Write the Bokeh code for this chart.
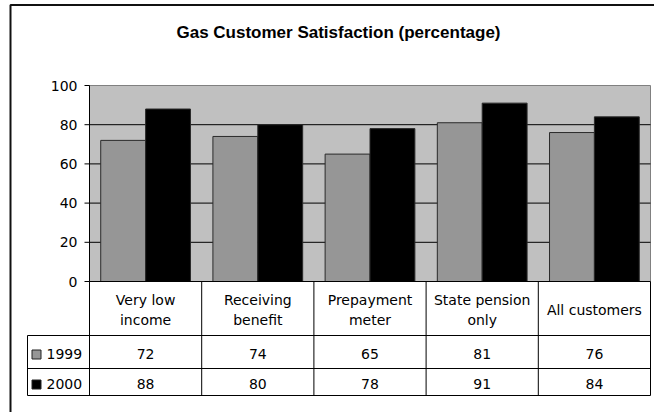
from bokeh.plotting import figure
from bokeh.models import Range1d
from bokeh.core.properties import value
from bokeh.embed import file_html
from bokeh.resources import INLINE

# ---- data ----
title = "Gas Customer Satisfaction (percentage)"
categories = [["Very low", "income"], ["Receiving", "benefit"], ["Prepayment", "meter"],
              ["State pension", "only"], ["All customers"]]
series_names = ["1999", "2000"]
sat_1999 = [72, 74, 65, 81, 76]
sat_2000 = [88, 80, 78, 91, 84]
y_ticks = [0, 20, 40, 60, 80, 100]

# ---- layout (pixels) ----
W, H = 654, 412
PLOT_L, PLOT_R, PLOT_T, PLOT_B = 89, 650, 85, 281
TABLE_L = 27
ROW1, ROW2, ROW3 = 335, 368, 395
TITLE_FONT = value("Liberation Sans")
FONT = value("DejaVu Sans")
FS = "14px"
GRAY, BLACK = "#969696", "#000000"

n = len(categories)
cat_w = (PLOT_R - PLOT_L) / n
px_per_unit = (PLOT_B - PLOT_T) / (y_ticks[-1] - y_ticks[0])

p = figure(width=W, height=H,
           x_range=Range1d(-PLOT_L / cat_w, (W - PLOT_L) / cat_w),
           y_range=Range1d(-(H - PLOT_B) / px_per_unit, PLOT_B / px_per_unit),
           output_backend="svg", toolbar_location=None, min_border=0,
           x_axis_location=None, y_axis_location=None,
           outline_line_color=None, background_fill_color="white")
p.extra_x_ranges = {"px": Range1d(0, W)}
p.extra_y_ranges = {"px": Range1d(H, 0)}
for g in p.grid:
    g.visible = False

# outer chart border
p.line(x=[10, 10, W + 20], y=[H + 20, 4.5, 4.5], x_range_name="px", y_range_name="px",
       line_color="#111111", line_width=2)

# title
p.text(x=[338], y=[32], text=[title], x_range_name="px", y_range_name="px",
       text_font=TITLE_FONT, text_font_size="17px", text_font_style="bold",
       text_align="center", text_baseline="middle", text_color="black")

# plot area
p.quad(left=[0], right=[n], bottom=[y_ticks[0]], top=[y_ticks[-1]],
       fill_color="#C0C0C0", line_color="#808080", line_width=1)
inner = y_ticks[1:-1]
p.segment(x0=[0] * len(inner), x1=[n] * len(inner), y0=inner, y1=inner,
          line_color="black", line_width=1)

# bars
xs = list(range(n))
p.vbar(x=[i + 0.3 for i in xs], width=0.4, bottom=0, top=sat_1999,
       fill_color=GRAY, line_color="#2a2a2a", line_width=1)
p.vbar(x=[i + 0.7 for i in xs], width=0.4, bottom=0, top=sat_2000,
       fill_color=BLACK, line_color="#2a2a2a", line_width=1)

# value axis
p.segment(x0=[0], x1=[0], y0=[y_ticks[0]], y1=[y_ticks[-1]], line_color="black", line_width=1)
p.segment(x0=[PLOT_L - 5] * len(y_ticks), x1=[PLOT_L] * len(y_ticks), y0=y_ticks, y1=y_ticks,
          x_range_name="px", line_color="black", line_width=1)
p.text(x=[0] * len(y_ticks), y=y_ticks, text=[str(t) for t in y_ticks], x_offset=-12,
       text_font=FONT, text_font_size=FS, text_align="right",
       text_baseline="middle", text_color="black")
p.segment(x0=[0], x1=[n], y0=[0], y1=[0], line_color="black", line_width=1)

# data table grid
p.segment(x0=list(range(n + 1)), x1=list(range(n + 1)), y0=[PLOT_B] * (n + 1), y1=[ROW3] * (n + 1),
          y_range_name="px", line_color="black", line_width=1)
p.segment(x0=[TABLE_L], x1=[TABLE_L], y0=[ROW1], y1=[ROW3],
          x_range_name="px", y_range_name="px", line_color="black", line_width=1)
p.segment(x0=[TABLE_L] * 3, x1=[PLOT_R] * 3, y0=[ROW1, ROW2, ROW3], y1=[ROW1, ROW2, ROW3],
          x_range_name="px", y_range_name="px", line_color="black", line_width=1)

# category labels (one or two lines, centred in the header cell)
cx, cy, ct = [], [], []
for i, lines in enumerate(categories):
    if len(lines) == 1:
        cx.append(i + 0.5); cy.append(309); ct.append(lines[0])
    else:
        for j, s in enumerate(lines):
            cx.append(i + 0.5); cy.append(299.5 + 20 * j); ct.append(s)
p.text(x=cx, y=cy, text=ct, y_range_name="px", text_font=FONT, text_font_size=FS,
       text_align="center", text_baseline="middle", text_color="black")

# table values and legend keys
for vals, mid in [(sat_1999, 353), (sat_2000, 383)]:
    p.text(x=[i + 0.5 for i in xs], y=[mid] * n, text=[str(v) for v in vals],
           y_range_name="px", text_font=FONT, text_font_size=FS,
           text_align="center", text_baseline="middle", text_color="black")
p.scatter(x=[36, 36], y=[354, 384], marker="square", size=9,
          fill_color=[GRAY, BLACK], line_color="#222222", line_width=1,
          x_range_name="px", y_range_name="px")
p.text(x=[46, 46], y=[353, 383], text=series_names, x_range_name="px", y_range_name="px",
       text_font=FONT, text_font_size=FS, text_align="left",
       text_baseline="middle", text_color="black")

open("out.html", "w").write(file_html(p, INLINE))
